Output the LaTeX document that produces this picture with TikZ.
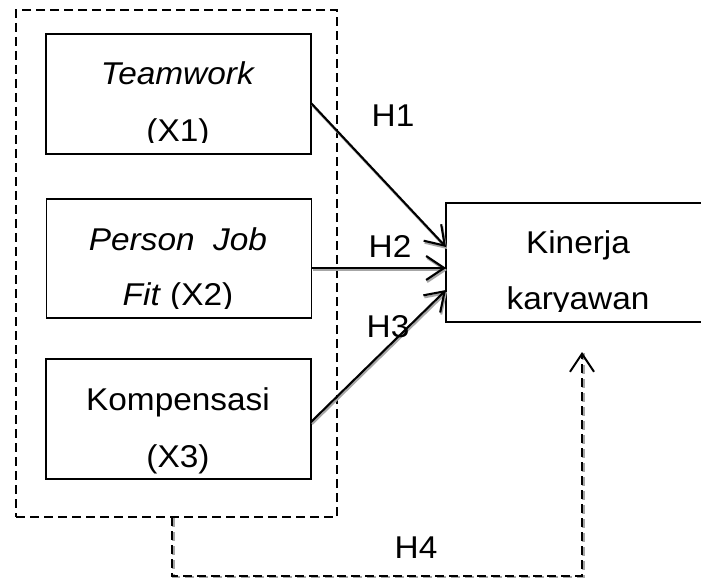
\documentclass[tikz,border=0pt]{standalone}
\usepackage{fontspec}
\setmainfont[FakeStretch=1.06]{Liberation Sans}
\usetikzlibrary{arrows.meta,calc}
\begin{document}
\begin{tikzpicture}[x=1pt,y=-1pt,
  box/.style={draw,line width=1.9pt,inner sep=0pt,outer sep=0pt,minimum width=265pt,minimum height=120pt},
  txt/.style={anchor=base,inner sep=0pt,font=\fontsize{31.5}{37}\selectfont},
  conn/.style={line width=2.1pt,-{Straight Barb[length=18pt,width=24pt,line width=2.1pt]}},
  shade/.style={conn,draw=black!35,transform canvas={shift={(1pt,-2pt)}}},
  dsh/.style={line width=2.2pt,dash pattern=on 9pt off 5pt}
]
\useasboundingbox (0,0) rectangle (701,580);
\fill[white] (0,0) rectangle (701,580);

% outer dashed group
\node[draw,dsh,inner sep=0pt,outer sep=0pt,minimum width=321pt,minimum height=507pt] (grp) at (176.5,263.5) {};

% boxes
\node[box] (t) at (178.5,94) {};
\node[box,minimum height=119pt] (p) at (179,258.5) {};
\node[box] (k) at (178.5,419) {};
\node[box,minimum width=264pt,minimum height=119pt] (y) at (578,262.5) {};

% texts (clipped like the reference)
\begin{scope}
  \clip (46,34) rectangle (311,143);
  \node[txt] (t1) at (178,85) {\textit{Teamwork}};
  \node[txt] (t2) at (178,142) {(X1)};
\end{scope}
\begin{scope}
  \clip (47,199) rectangle (311,308);
  \node[txt] (p1) at (178,250) {\textit{Person\ \ Job}};
  \node[txt] (p2) at (178,305) {\textit{Fit} (X2)};
\end{scope}
\node[txt] (k1) at (178,410) {Kompensasi};
\node[txt] (k2) at (178,467) {(X3)};
\begin{scope}
  \clip (446,203) rectangle (710,311);
  \node[txt] (y1) at (578,253) {Kinerja};
  \node[txt] (y2) at (578,309) {karyawan};
\end{scope}

% connectors
\coordinate (a1) at ($(t.east)+(0,9)$);
\coordinate (b1) at ($(y.west)+(0,-15.5)$);
\coordinate (a2) at ($(p.east)+(0,9.5)$);
\coordinate (b2) at ($(y.west)+(0,5.5)$);
\coordinate (a3) at ($(k.east)+(0,3)$);
\coordinate (b3) at ($(y.west)+(0,27.5)$);
\draw[shade] (a1) -- (b1);
\draw[shade] (a2) -- (b2);
\draw[shade] (a3) -- (b3);
\draw[conn] (a1) -- (b1);
\draw[conn] (a2) -- (b2);
\draw[conn] (a3) -- (b3);

% H4
\coordinate (c1) at ($(grp.south west)+(156,0)$);
\coordinate (c2) at ($(y.south west)+(136,30)$);
\draw[dsh,draw=black!35,transform canvas={shift={(1.5pt,-1pt)}}] (c1) -- ++(0,59) -| (c2);
\draw[dsh,-{Straight Barb[length=18pt,width=24pt,line width=2pt]}] (c1) -- ++(0,59) -| (c2);

% labels
\node[txt] (h1) at (393,127) {H1};
\node[txt] (h2) at (390,257) {H2};
\node[txt] (h3) at (388,337) {H3};
\node[txt] (h4) at (416,558) {H4};
\end{tikzpicture}
\end{document}
